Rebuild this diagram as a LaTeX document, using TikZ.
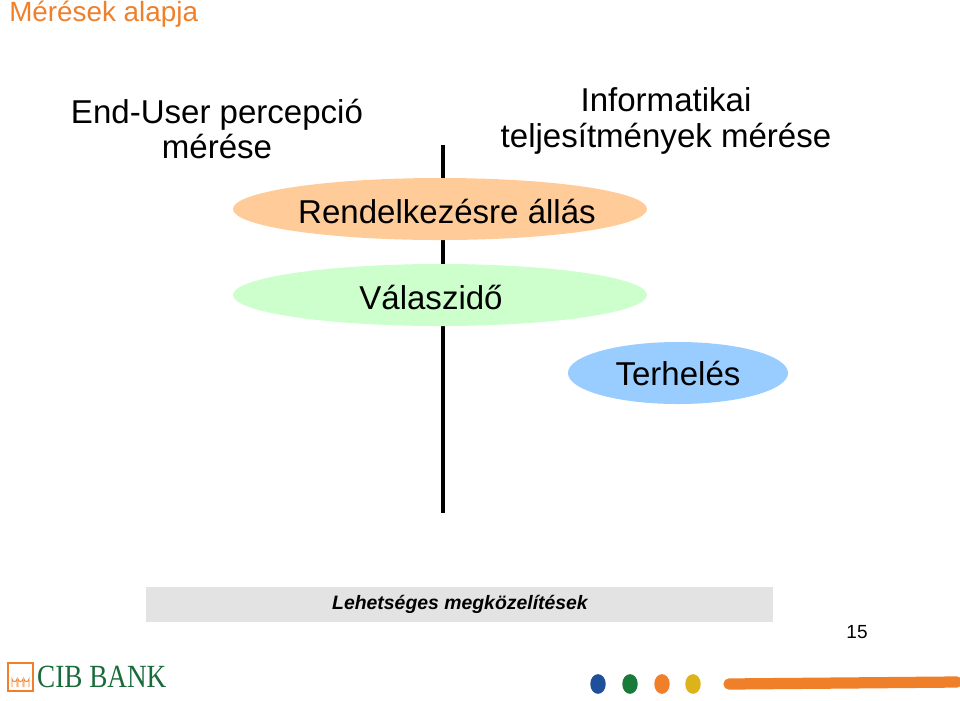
\documentclass[tikz,border=0pt]{standalone}
\usepackage{fontspec}
\setmainfont{Liberation Sans}
\newfontfamily\logofont{Liberation Serif}
\usetikzlibrary{shapes.geometric}
\definecolor{titleorange}{HTML}{F07F2A}
\definecolor{availfill}{HTML}{FFCC99}
\definecolor{respfill}{HTML}{CCFFCC}
\definecolor{loadfill}{HTML}{99CCFF}
\definecolor{barfill}{HTML}{E3E3E3}
\definecolor{cibgreen}{HTML}{1A6B3A}
\definecolor{dotblue}{HTML}{1F4E9A}
\definecolor{dotgreen}{HTML}{1A7A3A}
\definecolor{dotyellow}{HTML}{DDB31A}
\tikzset{
  heading/.style={align=center, font=\fontsize{23.5}{25}\selectfont, inner sep=0pt},
  ovaltext/.style={font=\fontsize{23.5}{25}\selectfont, inner sep=0pt},
  oval/.style={ellipse, draw=none, inner sep=0pt, ovaltext},
  dot/.style={ellipse, minimum width=11pt, minimum height=14pt, inner sep=0pt}
}
\begin{document}
\begin{tikzpicture}[x=0.025cm, y=-0.025cm]

% frame %{{{2

	\useasboundingbox (0,0) rectangle (960,700);

% title %{{{2

	\node[anchor=west, inner sep=0pt, text=titleorange, font=\fontsize{19.8}{21}\selectfont] (title) at (9,14) {Mérések alapja};

% headings %{{{2

	\node[heading] (user) at (217,129) {End-User percepció\\mérése};
	\node[heading] (it) at (666,121) {Informatikai\\teljesítmények mérése};

% axis %{{{2

	\coordinate (top) at (443,145);
	\coordinate (bottom) at (443,513);
	\draw[line width=2.4pt] (top) -- (bottom);

% ovals %{{{2

	\node[oval, fill=availfill, minimum width=10.35cm, minimum height=1.55cm] (avail) at (440,209) {};
	\node[ovaltext] (availtext) at (447,211) {Rendelkezésre állás};

	\node[oval, fill=respfill, minimum width=10.35cm, minimum height=1.55cm] (resp) at (440,295) {};
	\node[ovaltext] (resptext) at (431,297) {Válaszidő};

	\node[oval, fill=loadfill, minimum width=5.5cm, minimum height=1.55cm] (load) at (678,373) {Terhelés};

% footer %{{{2

	\fill[barfill] (146,587) rectangle (773,622);
	\node[font=\fontsize{13.8}{15}\selectfont\bfseries\itshape] (approach) at (460,604) {Lehetséges megközelítések};

	\node[font=\fontsize{13.5}{15}\selectfont] (page) at (857,632) {15};

% logo %{{{2

	\draw[titleorange, line width=0.8pt] (8,663) rectangle (33,691);
	\foreach \i in {0,1,2} {
		\draw[titleorange, line width=0.6pt] ({12+\i*6},687) -- ({12+\i*6},679) arc[start angle=180, end angle=0, radius=2.5] -- ({17+\i*6},687);
	}
	\node[anchor=west, inner sep=0pt, text=cibgreen, font=\logofont\fontsize{23}{25}\selectfont, xscale=0.84] (cib) at (37,677) {CIB BANK};

	\node[dot, fill=dotblue] (d1) at (598,684) {};
	\node[dot, fill=dotgreen] (d2) at (630,684) {};
	\node[dot, fill=titleorange] (d3) at (662,684) {};
	\node[dot, fill=dotyellow] (d4) at (693,684) {};
	\draw[titleorange, line width=8pt, line cap=round] (729,684) -- (957,682);

\end{tikzpicture}
\end{document}
